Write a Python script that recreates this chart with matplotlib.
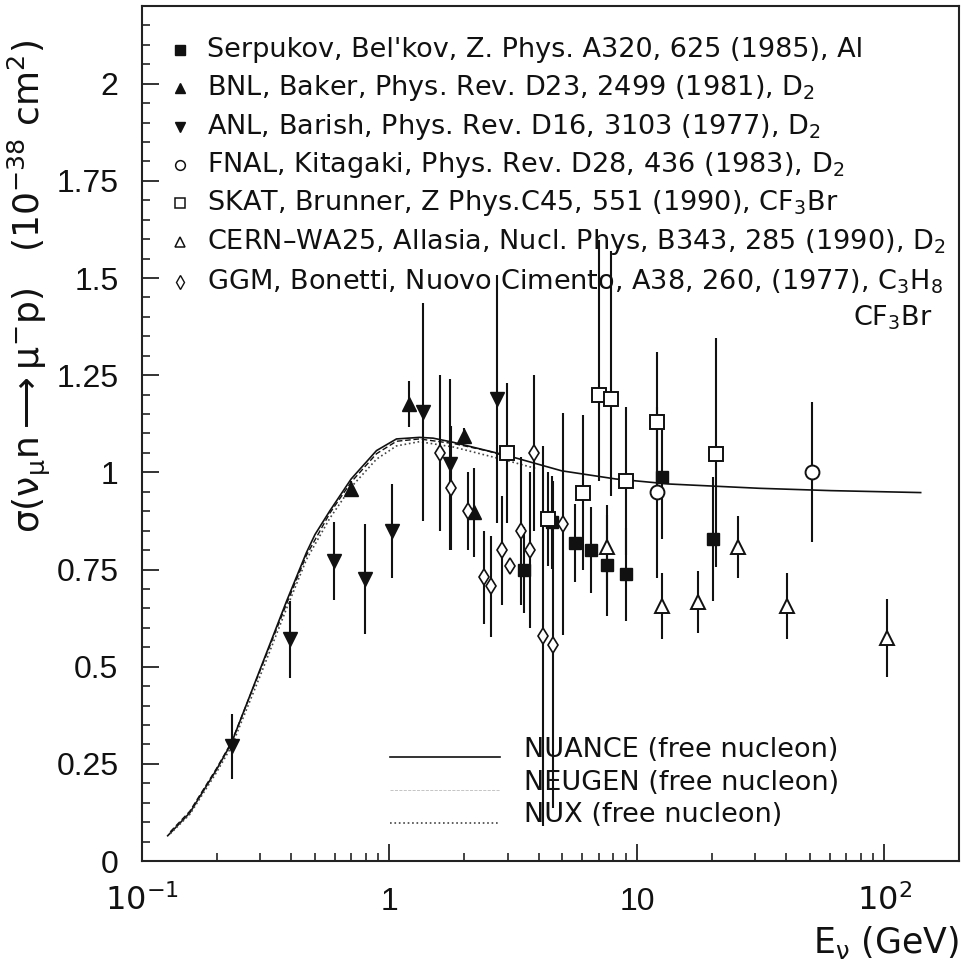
import matplotlib
matplotlib.use('Agg')
from matplotlib import pyplot as plt
from matplotlib.ticker import FixedLocator, LogLocator, MultipleLocator, NullFormatter

# Serpukov, Bel'kov (Al)
serp_E = [3.49, 4.52, 5.6, 6.51, 7.6, 9.04, 12.6, 20.2]
serp_s = [0.749, 0.871, 0.818, 0.80, 0.761, 0.738, 0.989, 0.828]
serp_err = [0.11, 0.12, 0.10, 0.11, 0.13, 0.12, 0.16, 0.16]

# BNL, Baker (D2)
bnl_E = [0.70, 1.20, 2.0, 2.19]
bnl_s = [0.957, 1.176, 1.094, 0.897]
bnl_err = [0.02, 0.06, 0.02, 0.115]

# ANL, Barish (D2)
anl_E = [0.23, 0.396, 0.596, 0.795, 1.02, 1.36, 1.75, 2.73]
anl_s = [0.295, 0.57, 0.772, 0.725, 0.849, 1.155, 1.021, 1.189]
anl_err = [0.083, 0.10, 0.10, 0.142, 0.122, 0.28, 0.22, 0.32]

# FNAL, Kitagaki (D2)
fnal_E = [12.1, 50.9]
fnal_s = [0.949, 1.0]
fnal_err = [0.22, 0.18]

# SKAT, Brunner (CF3Br)
skat_E = [2.97, 4.35, 6.06, 7.0, 7.86, 9.04, 12.1, 20.9]
skat_s = [1.05, 0.88, 0.948, 1.199, 1.189, 0.978, 1.13, 1.047]
skat_lo = [0.18, 0.12, 0.20, 0.22, 0.25, 0.19, 0.18, 0.29]
skat_hi = [0.18, 0.12, 0.20, 0.40, 0.38, 0.19, 0.18, 0.30]

# CERN-WA25, Allasia (D2)
cern_E = [7.6, 12.6, 17.7, 25.5, 40.5, 102]
cern_s = [0.807, 0.656, 0.666, 0.807, 0.656, 0.574]
cern_err = [0.11, 0.085, 0.08, 0.08, 0.085, 0.10]

# GGM, Bonetti (C3H8 / CF3Br)
ggm_E = [1.60, 1.78, 2.07, 2.40, 2.58, 2.86, 3.08, 3.39, 3.68, 3.83, 4.19, 4.56, 5.04]
ggm_s = [1.05, 0.96, 0.90, 0.73, 0.707, 0.80, 0.758, 0.849, 0.80, 1.05, 0.579, 0.557, 0.867]
ggm_err = [0.20, 0.16, 0.10, 0.12, 0.13, 0.14, 0.0, 0.19, 0.20, 0.20, 0.49, 0.42, 0.285]

# model curves (free nucleon)
nuance_E = [0.127, 0.156, 0.2, 0.23, 0.3, 0.384, 0.462, 0.5, 0.574, 0.7, 0.886, 1.067,
            1.32, 1.5, 1.82, 2.2, 3.0, 4.96, 8.2, 13.5, 31.2, 60.8, 140]
nuance_s = [0.065, 0.124, 0.235, 0.304, 0.493, 0.669, 0.794, 0.84, 0.901, 0.983, 1.056, 1.086,
            1.09, 1.088, 1.077, 1.064, 1.043, 1.004, 0.983, 0.97, 0.959, 0.953, 0.948]
neugen_E = [0.13, 0.156, 0.2, 0.23, 0.3, 0.384, 0.462, 0.574, 0.7, 0.886, 1.067, 1.32, 1.82, 2.5, 3.0]
neugen_s = [0.075, 0.128, 0.238, 0.306, 0.49, 0.662, 0.787, 0.895, 0.975, 1.048, 1.08, 1.086, 1.074, 1.055, 1.04]
nux_E = [0.13, 0.156, 0.2, 0.23, 0.3, 0.384, 0.462, 0.574, 0.7, 0.886, 1.067, 1.32, 1.82, 3.0, 3.9]
nux_s = [0.07, 0.12, 0.228, 0.295, 0.476, 0.65, 0.776, 0.882, 0.962, 1.034, 1.068, 1.079, 1.065, 1.03, 1.01]

ytick_vals = [0, 0.25, 0.5, 0.75, 1, 1.25, 1.5, 1.75, 2]
ytick_labels = ['0', '0.25', '0.5', '0.75', '1', '1.25', '1.5', '1.75', '2']
xtick_vals = [0.1, 1, 10, 100]
xtick_labels = ['$10^{-1}$', '1', '10', '$10^{2}$']

legend_labels = [
    "Serpukov, Bel'kov, Z. Phys. A320, 625 (1985), Al",
    "BNL, Baker, Phys. Rev. D23, 2499 (1981), D$_2$",
    "ANL, Barish, Phys. Rev. D16, 3103 (1977), D$_2$",
    "FNAL, Kitagaki, Phys. Rev. D28, 436 (1983), D$_2$",
    "SKAT, Brunner, Z Phys.C45, 551 (1990), CF$_3$Br",
    "CERN\u2013WA25, Allasia, Nucl. Phys, B343, 285 (1990), D$_2$",
    "GGM, Bonetti, Nuovo Cimento, A38, 260, (1977), C$_3$H$_8$",
]
model_labels = ['NUANCE (free nucleon)', 'NEUGEN (free nucleon)', 'NUX (free nucleon)']

plt.rcParams['font.family'] = ['DejaVu Sans']
plt.rcParams['mathtext.fontset'] = 'custom'
plt.rcParams['mathtext.rm'] = 'DejaVu Sans'
plt.rcParams['mathtext.it'] = 'DejaVu Sans'  # upright greek like the original
plt.rcParams['mathtext.bf'] = 'DejaVu Sans:bold'

K = '#111111'

fig = plt.figure(figsize=(9.62, 9.63), dpi=100)
ax = fig.add_axes([142 / 962, 102 / 963, 817 / 962, 855 / 963])

# curves
ax.plot(nuance_E, nuance_s, '-', color=K, lw=1.2, zorder=2)
ax.plot(neugen_E, neugen_s, '--', color=K, lw=1.0, dashes=(4, 2), zorder=2)
ax.plot(nux_E, nux_s, ':', color='#444444', lw=1.2, zorder=2)

ebkw = dict(ls='none', ecolor=K, elinewidth=1.5, capsize=0, zorder=3)
ax.errorbar(serp_E, serp_s, yerr=serp_err, marker='s', ms=8.5, mfc=K, mec=K, **ebkw)
ax.errorbar(bnl_E, bnl_s, yerr=bnl_err, marker='^', ms=9.5, mfc=K, mec=K, **ebkw)
ax.errorbar(anl_E, anl_s, yerr=anl_err, marker='v', ms=9.5, mfc=K, mec=K, **ebkw)
ax.errorbar(fnal_E, fnal_s, yerr=fnal_err, marker='o', ms=10, mfc='white', mec=K, mew=1.4, **ebkw)
ax.errorbar(skat_E, skat_s, yerr=[skat_lo, skat_hi], marker='s', ms=9.5, mfc='white', mec=K, mew=1.4, **ebkw)
ax.errorbar(cern_E, cern_s, yerr=cern_err, marker='^', ms=10, mfc='white', mec=K, mew=1.4, **ebkw)
ax.errorbar(ggm_E, ggm_s, yerr=ggm_err, marker='d', ms=8.5, mfc='white', mec=K, mew=1.2, **ebkw)

ax.set_xscale('log')
ax.set_xlim(0.1, 200)
ax.set_ylim(0, 2.2)

ax.xaxis.set_major_locator(FixedLocator(xtick_vals))
ax.set_xticklabels(xtick_labels, fontfamily='Liberation Sans', fontsize=23)
ax.xaxis.set_minor_locator(LogLocator(base=10, subs=[2, 3, 4, 5, 6, 7, 8, 9], numticks=20))
ax.xaxis.set_minor_formatter(NullFormatter())
for lab in ax.get_xticklabels():
    lab.set_verticalalignment('baseline')

ax.yaxis.set_major_locator(FixedLocator(ytick_vals))
ax.set_yticklabels(ytick_labels, fontfamily='Liberation Sans', fontsize=23)
ax.yaxis.set_minor_locator(MultipleLocator(0.05))

ax.tick_params(which='both', direction='in', top=False, right=False, colors=K)
ax.tick_params(which='major', length=12, width=1.2)
ax.tick_params(which='minor', length=6, width=1.1)
ax.tick_params(axis='x', which='major', pad=35)
ax.tick_params(axis='y', which='major', pad=17)
for sp in ax.spines.values():
    sp.set_linewidth(1.5)
    sp.set_color('#222222')

# top legend (markers + references)
leg_rows = [0.9485, 0.904, 0.8585, 0.814, 0.7696, 0.724, 0.677]
leg_styles = [
    dict(marker='s', ms=6.5, mfc=K, mec=K),
    dict(marker='^', ms=7, mfc=K, mec=K),
    dict(marker='v', ms=7, mfc=K, mec=K),
    dict(marker='o', ms=7, mfc='white', mec=K, mew=1.1),
    dict(marker='s', ms=7, mfc='white', mec=K, mew=1.1),
    dict(marker='^', ms=7.5, mfc='white', mec=K, mew=1.1),
    dict(marker='d', ms=7, mfc='white', mec=K, mew=1.0),
]
for yy, st, lab in zip(leg_rows, leg_styles, legend_labels):
    ax.plot([0.046], [yy], transform=ax.transAxes, ls='none', clip_on=False, **st)
    ax.text(0.079, yy, lab, transform=ax.transAxes, fontsize=19.5, color=K, va='center', ha='left')
ax.text(0.968, 0.635, 'CF$_3$Br', transform=ax.transAxes, fontsize=19.5, color=K, va='center', ha='right')

# bottom legend (models)
ax.plot([0.303, 0.438], [0.1216, 0.1216], '-', color=K, lw=1.2, transform=ax.transAxes)
ax.plot([0.303, 0.438], [0.083, 0.083], '--', color='#bbbbbb', lw=0.6, transform=ax.transAxes)
ax.plot([0.303, 0.438], [0.044, 0.044], ':', color='#444444', lw=1.2, transform=ax.transAxes)
for yy, lab in zip([0.13, 0.091, 0.054], model_labels):
    ax.text(0.467, yy, lab, transform=ax.transAxes, fontsize=19.5, color=K, va='center', ha='left')

# axis titles
ax.text(1.0, -0.095, r'E$_{\nu}$ (GeV)', transform=ax.transAxes,
        fontsize=25, color=K, ha='right', va='center')
fig.text(0.031, 0.702, r'$\sigma(\nu_{\mu}$n$\longrightarrow\mu^{-}$p)   (10$^{-38}$ cm$^{2}$)',
         fontsize=26, color=K, rotation=90, ha='center', va='center')

plt.savefig('out.png', dpi=100)
